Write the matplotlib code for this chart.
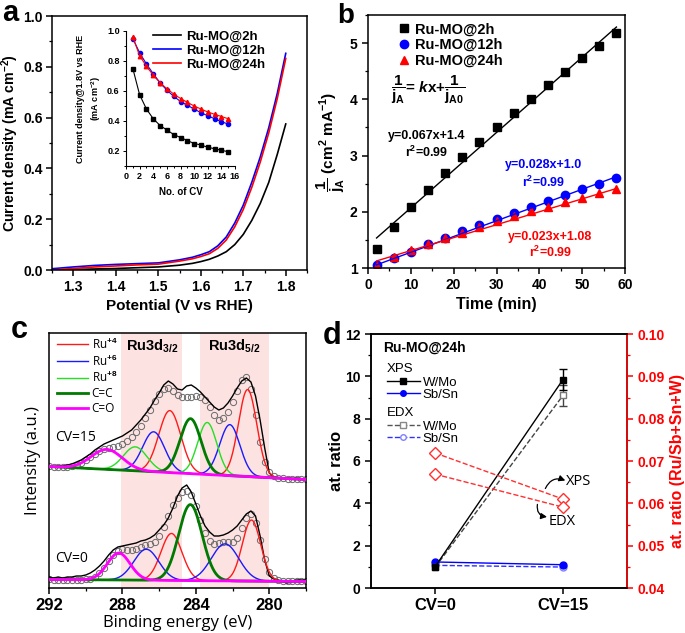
import numpy as np
import matplotlib
matplotlib.use('Agg')
import matplotlib.pyplot as plt
from matplotlib.lines import Line2D
from matplotlib.ticker import MultipleLocator, FormatStrFormatter

plt.rcParams['font.family'] = ['Liberation Sans', 'DejaVu Sans']
plt.rcParams['font.weight'] = 'bold'
plt.rcParams['axes.labelweight'] = 'bold'
plt.rcParams['mathtext.fontset'] = 'custom'
plt.rcParams['mathtext.rm'] = 'Liberation Sans'
plt.rcParams['mathtext.it'] = 'Liberation Sans:italic:bold'
plt.rcParams['mathtext.bf'] = 'Liberation Sans:bold'
plt.rcParams['mathtext.default'] = 'bf'
plt.rcParams['axes.linewidth'] = 1.1
for ax_ in ('xtick', 'ytick'):
    plt.rcParams[ax_ + '.major.width'] = 1.1
    plt.rcParams[ax_ + '.minor.width'] = 0.9
    plt.rcParams[ax_ + '.major.size'] = 4
    plt.rcParams[ax_ + '.minor.size'] = 2.5

# ---------------- panel a data ----------------
lsv_potential = [1.25, 1.30, 1.35, 1.40, 1.45, 1.50, 1.55, 1.58, 1.60, 1.62, 1.64, 1.66, 1.68,
                 1.70, 1.72, 1.74, 1.76, 1.78, 1.80]
lsv_2h = [0.000, 0.002, 0.004, 0.006, 0.009, 0.012, 0.019, 0.026, 0.033, 0.042, 0.055, 0.072, 0.100,
          0.140, 0.195, 0.262, 0.345, 0.455, 0.575]
lsv_12h = [0.005, 0.012, 0.018, 0.022, 0.025, 0.028, 0.040, 0.050, 0.060, 0.072, 0.095, 0.130, 0.185,
           0.255, 0.345, 0.445, 0.560, 0.695, 0.853]
lsv_24h = [0.000, 0.006, 0.012, 0.016, 0.020, 0.023, 0.035, 0.044, 0.053, 0.064, 0.085, 0.118, 0.170,
           0.238, 0.325, 0.425, 0.540, 0.675, 0.833]
sample_labels = ['Ru-MO@2h', 'Ru-MO@12h', 'Ru-MO@24h']

cv_number = list(range(1, 16))
inset_2h = [0.75, 0.575, 0.48, 0.415, 0.37, 0.34, 0.31, 0.29, 0.27, 0.25, 0.24, 0.225, 0.215, 0.205, 0.195]
inset_12h = [0.95, 0.855, 0.78, 0.715, 0.655, 0.605, 0.565, 0.53, 0.505, 0.48, 0.455, 0.435, 0.415, 0.395, 0.38]
inset_24h = [0.96, 0.835, 0.765, 0.705, 0.655, 0.615, 0.58, 0.55, 0.525, 0.50, 0.48, 0.46, 0.445, 0.43, 0.415]

# ---------------- panel b data ----------------
time_min = [2, 6, 10, 14, 18, 22, 26, 30, 34, 38, 42, 46, 50, 54, 58]
inv_j_2h = [1.33, 1.73, 2.08, 2.38, 2.69, 2.97, 3.24, 3.50, 3.75, 4.00, 4.25, 4.49, 4.73, 4.95, 5.18]
inv_j_12h = [1.05, 1.18, 1.285, 1.42, 1.535, 1.65, 1.76, 1.87, 1.98, 2.09, 2.19, 2.30, 2.40, 2.50, 2.60]
inv_j_24h = [1.04, 1.20, 1.32, 1.43, 1.53, 1.63, 1.73, 1.84, 1.92, 2.01, 2.09, 2.18, 2.25, 2.34, 2.40]
fit_slope = [0.067, 0.028, 0.023]
fit_intercept = [1.4, 1.0, 1.08]
fit_text = ['y=0.067x+1.4', 'y=0.028x+1.0', 'y=0.023x+1.08']
fit_r2 = ['r$^{2}$=0.99', 'r$^{2}$=0.99', 'r$^{2}$=0.99']

# ---------------- panel c data ----------------
raw_energy = [292.0, 291.75, 291.5, 291.25, 291.0, 290.75, 290.5, 290.25, 290.0, 289.75, 289.5, 289.25,
              289.0, 288.75, 288.5, 288.25, 288.0, 287.75, 287.5, 287.25, 287.0, 286.75, 286.5, 286.25,
              286.0, 285.75, 285.5, 285.25, 285.0, 284.75, 284.5, 284.25, 284.0, 283.75, 283.5, 283.25,
              283.0, 282.75, 282.5, 282.25, 282.0, 281.75, 281.5, 281.25, 281.0, 280.75, 280.5, 280.25,
              280.0, 279.75, 279.5, 279.25, 279.0, 278.75, 278.5, 278.25, 278.0]
raw_cv15 = [121, 121, 122, 122, 123, 124, 126, 128, 131, 134, 138, 141,
            144, 146, 148, 150, 152, 155, 158, 163, 168, 174, 180, 188,
            195, 203, 207, 204, 199, 198, 202, 203, 200, 196, 191, 186,
            181, 178, 180, 185, 192, 200, 207, 210, 206, 192, 168, 140,
            115, 111, 110, 110, 110, 109, 110, 109, 109]
raw_cv0 = [11, 10, 11, 10, 11, 11, 12, 12, 13, 15, 18, 22,
           27, 33, 38, 41, 42, 43, 44, 45, 47, 48, 50, 53,
           58, 63, 70, 80, 92, 100, 103, 96, 84, 72, 62, 56,
           52, 52, 53, 55, 58, 62, 68, 74, 77, 72, 52, 28,
           12, 9, 8, 6, 5, 7, 8, 8, 8]
# background (value at 292 eV, value at 278 eV)
bg_cv15 = [121.5, 108.5]
bg_cv0 = [8.5, 6.5]
# fitted components: species, centre (eV), height, sigma (eV)
comp_cv15_species = ['C=O', 'Ru+8', 'Ru+6', 'Ru+4', 'C=C', 'Ru+8', 'Ru+6', 'Ru+4']
comp_cv15_center = [288.85, 287.3, 286.3, 285.42, 284.29, 283.38, 282.15, 281.18]
comp_cv15_height = [20, 24, 40, 62, 55, 52, 51, 87]
comp_cv15_sigma = [0.85, 0.65, 0.6, 0.6, 0.57, 0.52, 0.55, 0.5]
comp_cv0_species = ['C=O', 'Ru+6', 'Ru+4', 'C=C', 'Ru+6', 'Ru+4']
comp_cv0_center = [288.2, 286.7, 285.33, 284.3, 282.41, 280.97]
comp_cv0_height = [27, 31, 47, 76, 37, 61]
comp_cv0_sigma = [0.62, 0.68, 0.57, 0.64, 0.75, 0.5]
species_order = ['Ru+4', 'Ru+6', 'Ru+8', 'C=C', 'C=O']
species_label = ['Ru$^{\\mathrm{+4}}$', 'Ru$^{\\mathrm{+6}}$', 'Ru$^{\\mathrm{+8}}$', 'C=C', 'C=O']
species_color = ['#ff1a1a', '#1a1aff', '#22e022', '#007a00', '#ff00ff']
species_lw = [1.0, 1.0, 1.0, 2.0, 2.0]
band_3_2 = [288.1, 284.75]
band_5_2 = [283.8, 280.0]

# ---------------- panel d data ----------------
cv_labels = ['CV=0', 'CV=15']
xps_w_mo = [1.0, 9.85]
xps_w_mo_err = [0.0, 0.5]
xps_sb_sn = [1.23, 1.10]
edx_w_mo = [0.97, 9.1]
edx_w_mo_err = [0.0, 0.5]
edx_sb_sn = [1.07, 0.99]
ru_ratio_xps = [0.0719, 0.0610]
ru_ratio_edx = [0.0669, 0.0591]

# ---------------- figure ----------------
W, H = 685, 633
fig = plt.figure(figsize=(W / 100, H / 100), dpi=100)


def rect(l, t, r, b):
    return [l / W, 1 - b / H, (r - l) / W, (b - t) / H]


TL = 10      # tick label size
AL = 10.5    # axis label size

# ===== panel a =====
axA = fig.add_axes(rect(52, 16, 307, 270))
colors3 = ['black', '#0000ff', '#ff0000']
for yv, c, lab in zip([lsv_2h, lsv_12h, lsv_24h], colors3, sample_labels):
    axA.plot(lsv_potential, yv, color=c, lw=1.2, label=lab)
axA.set_xlim(1.25, 1.85)
axA.set_ylim(0, 1.0)
axA.xaxis.set_major_locator(MultipleLocator(0.1))
axA.xaxis.set_minor_locator(MultipleLocator(0.05))
axA.yaxis.set_major_locator(MultipleLocator(0.2))
axA.yaxis.set_minor_locator(MultipleLocator(0.1))
axA.yaxis.set_major_formatter(FormatStrFormatter('%.1f'))
axA.tick_params(which='both', direction='out', labelsize=TL)
axA.tick_params(axis='y', pad=2.5)
axA.set_xlabel('Potential (V vs RHE)', fontsize=AL + 0.5, labelpad=3)
axA.set_ylabel('Current density (mA cm$^{-2}$)', fontsize=10.2, labelpad=1.5)

axI = fig.add_axes(rect(126, 31, 235, 166))
axI.set_facecolor('none')
axI.plot(cv_number, inset_2h, '-s', color='black', ms=3, lw=0.8)
axI.plot(cv_number, inset_12h, '-o', color='#0000ff', ms=3, lw=0.8)
axI.plot(cv_number, inset_24h, '-^', color='#ff0000', ms=3.2, lw=0.8)
axI.set_xlim(0, 16)
axI.set_ylim(0.1, 1.0)
axI.spines['top'].set_visible(False)
axI.spines['right'].set_visible(False)
axI.spines['left'].set_linewidth(0.8)
axI.spines['bottom'].set_linewidth(0.8)
axI.xaxis.set_major_locator(MultipleLocator(2))
axI.xaxis.set_minor_locator(MultipleLocator(1))
axI.yaxis.set_major_locator(MultipleLocator(0.2))
axI.yaxis.set_minor_locator(MultipleLocator(0.1))
axI.tick_params(which='both', direction='out', labelsize=6.5, width=0.7, pad=2)
axI.tick_params(which='major', length=2.5)
axI.tick_params(which='minor', length=1.5)
axI.set_xlabel('No. of CV', fontsize=7, labelpad=4)
axI.set_ylabel('Current density@1.8V vs RHE\n(mA cm$^{-2}$)', fontsize=6.5, labelpad=3, linespacing=1.4)
legA = axI.legend(*axA.get_legend_handles_labels(), loc='upper left', bbox_to_anchor=(0.19, 1.05),
                  frameon=False, fontsize=9.5, handlelength=2.1, handletextpad=0.35,
                  labelspacing=0.12, borderpad=0)

# ===== panel b =====
axB = fig.add_axes(rect(368, 15, 625, 268))
markers3 = ['s', 'o', '^']
for yv, c, m, lab in zip([inv_j_2h, inv_j_12h, inv_j_24h], colors3, markers3, sample_labels):
    axB.plot(time_min, yv, m, color=c, ms=6, ls='none', label=lab)
for k, c in enumerate(colors3):
    xs = np.array([time_min[0], time_min[-1]])
    axB.plot(xs, fit_slope[k] * xs + fit_intercept[k], color=c, lw=1.0)
axB.set_xlim(0, 60)
axB.set_ylim(1, 5.5)
axB.xaxis.set_major_locator(MultipleLocator(10))
axB.xaxis.set_minor_locator(MultipleLocator(5))
axB.yaxis.set_major_locator(MultipleLocator(1))
axB.yaxis.set_minor_locator(MultipleLocator(0.5))
axB.tick_params(which='both', direction='out', labelsize=TL)
axB.set_xlabel('Time (min)', fontsize=AL + 1, labelpad=3)
axB.set_ylabel(r'$\dfrac{1}{j_A}$ (cm$^{2}$ mA$^{-1}$)', fontsize=AL + 0.5, labelpad=2)
axB.legend(loc='upper left', bbox_to_anchor=(0.084, 1.0), frameon=False, fontsize=10.5,
           handlelength=1.0, handletextpad=0.25, labelspacing=0.12, borderpad=0, numpoints=1)
axB.text(5.3, 4.17, r'$\dfrac{1}{j_A}$= $\mathit{k}$x+$\dfrac{1}{j_{A0}}$', fontsize=11, va='center', ha='left')
axB.text(13.6, 3.35, fit_text[0], color='black', fontsize=9, ha='center', va='center')
axB.text(13.6, 3.05, fit_r2[0], color='black', fontsize=9, ha='center', va='center')
axB.text(41.1, 2.83, fit_text[1], color='#0000ff', fontsize=9, ha='center', va='center')
axB.text(41.1, 2.53, fit_r2[1], color='#0000ff', fontsize=9, ha='center', va='center')
axB.text(42.6, 1.55, fit_text[2], color='#ff0000', fontsize=9, ha='center', va='center')
axB.text(42.6, 1.28, fit_r2[2], color='#ff0000', fontsize=9, ha='center', va='center')

# ===== panel c =====
axC = fig.add_axes(rect(49, 333, 306, 588))
axC.axvspan(band_3_2[0], band_3_2[1], color='#fde2e2', lw=0, zorder=0)
axC.axvspan(band_5_2[0], band_5_2[1], color='#fde2e2', lw=0, zorder=0)
E_fine = np.linspace(292, 278, 500)
E_circ = np.arange(292.0, 277.99, -0.25)


def draw_spectrum(raw, bg, species, centers, heights, sigmas):
    base_f = np.interp(E_fine, [278, 292], [bg[1], bg[0]])
    base_c = np.interp(E_circ, [278, 292], [bg[1], bg[0]])
    env_c = base_c.copy()
    curves = []
    for sp, c0, h, s in zip(species, centers, heights, sigmas):
        g_f = h * np.exp(-(E_fine - c0) ** 2 / (2 * s ** 2))
        g_c = h * np.exp(-(E_circ - c0) ** 2 / (2 * s ** 2))
        env_c += g_c
        curves.append((sp, base_f + g_f))
    axC.plot(E_circ, env_c, 'o', mfc='none', mec='#6a6a6a', ms=4.5, mew=0.7, zorder=2)
    axC.plot(raw_energy, raw, color='black', lw=1.0, zorder=3)
    for i, sp_name in enumerate(species_order):
        for sp, yv in curves:
            if sp == sp_name:
                axC.plot(E_fine, yv, color=species_color[i], lw=species_lw[i], zorder=4)


draw_spectrum(raw_cv15, bg_cv15, comp_cv15_species, comp_cv15_center, comp_cv15_height, comp_cv15_sigma)
draw_spectrum(raw_cv0, bg_cv0, comp_cv0_species, comp_cv0_center, comp_cv0_height, comp_cv0_sigma)
axC.set_xlim(292, 278)
axC.set_ylim(0, 255)
axC.set_yticks([])
axC.xaxis.set_major_locator(MultipleLocator(4))
axC.xaxis.set_minor_locator(MultipleLocator(2))
axC.tick_params(which='both', direction='out', labelsize=12)
axC.set_xlabel('Binding energy (eV)', fontsize=12, fontweight='normal', family='Open Sans', labelpad=1)
axC.set_ylabel('Intensity (a.u.)', fontsize=12, fontweight='normal', family='Open Sans', labelpad=6)
handles_c = [Line2D([], [], color=c, lw=lw) for c, lw in zip(species_color, species_lw)]
axC.legend(handles_c, species_label, loc='upper left', bbox_to_anchor=(0.01, 1.01), frameon=False,
           prop={'family': 'Open Sans', 'size': 8.5, 'weight': 'normal'},
           handlelength=2.6, handletextpad=0.3, labelspacing=0.15, borderpad=0)
axC.text(286.4, 242, 'Ru3d$_{3/2}$', fontsize=10.5, ha='center', va='center')
axC.text(281.9, 242, 'Ru3d$_{5/2}$', fontsize=10.5, ha='center', va='center')
axC.text(291.65, 151, 'CV=15', fontsize=10, fontweight='normal', family='Open Sans', va='center')
axC.text(291.65, 30, 'CV=0', fontsize=10, fontweight='normal', family='Open Sans', va='center')

# ===== panel d =====
axD = fig.add_axes(rect(371, 334, 627, 588))
xpos = np.arange(len(cv_labels))
axD.errorbar(xpos, edx_w_mo, yerr=edx_w_mo_err, errorevery=(1, 2), color='#444444', ls='--', lw=1.0,
             marker='s', mfc='white', mec='#777777', ms=5, capsize=3, elinewidth=1)
axD.plot(xpos, edx_sb_sn, color='#3030ff', ls='--', lw=1.0, marker='o', mfc='white', mec='#8080ff', ms=5)
axD.errorbar(xpos, xps_w_mo, yerr=xps_w_mo_err, errorevery=(1, 2), color='black', lw=1.0, marker='s', ms=5,
             capsize=3, elinewidth=1)
axD.plot(xpos, xps_sb_sn, color='#0000ff', lw=1.0, marker='o', ms=5)
axD.set_xlim(-0.5, 1.5)
axD.set_ylim(0, 12)
axD.set_xticks(xpos)
axD.set_xticklabels(cv_labels, fontsize=12)
axD.yaxis.set_major_locator(MultipleLocator(2))
axD.yaxis.set_minor_locator(MultipleLocator(1))
axD.tick_params(which='both', direction='out', labelsize=TL)
axD.tick_params(axis='x', labelsize=12)
axD.set_ylabel('at. ratio', fontsize=12, labelpad=1)

axD2 = axD.twinx()
axD2.plot(xpos, ru_ratio_xps, color='#ff3030', ls='--', lw=1.0, marker='D', mfc='white', mec='#ff3030', ms=6)
axD2.plot(xpos, ru_ratio_edx, color='#ff3030', ls='--', lw=1.0, marker='D', mfc='white', mec='#ff3030', ms=6)
axD2.set_ylim(0.04, 0.10)
axD2.yaxis.set_major_locator(MultipleLocator(0.01))
axD2.yaxis.set_minor_locator(MultipleLocator(0.005))
axD2.yaxis.set_major_formatter(FormatStrFormatter('%.2f'))
axD2.tick_params(which='both', direction='out', labelsize=TL, colors='#ff0000')
axD2.spines['right'].set_color('#ff0000')
axD2.set_ylabel('at. ratio (Ru/Sb+Sn+W)', fontsize=11.5, color='#ff0000', labelpad=4)

axD.text(0.047, 0.946, 'Ru-MO@24h', transform=axD.transAxes, fontsize=10, va='center')
lp = {'family': 'Liberation Sans', 'size': 9.5, 'weight': 'normal'}
h_xps = [Line2D([], [], color='black', lw=1.0, marker='s', ms=4),
         Line2D([], [], color='#0000ff', lw=1.0, marker='o', ms=4)]
h_edx = [Line2D([], [], color='#555555', lw=1.0, ls='--', marker='s', mfc='white', mec='#888888', ms=4),
         Line2D([], [], color='#3030ff', lw=1.0, ls='--', marker='o', mfc='white', mec='#8080ff', ms=4)]
leg1 = axD.legend(h_xps, ['W/Mo', 'Sb/Sn'], title='XPS', alignment='left', loc='upper left',
                  bbox_to_anchor=(0.035, 0.912), frameon=False, prop=lp, title_fontproperties=lp,
                  handlelength=2.5, handletextpad=0.25, labelspacing=0.0, borderpad=0)
leg1._legend_box.sep = 1
axD.add_artist(leg1)
leg2 = axD.legend(h_edx, ['W/Mo', 'Sb/Sn'], title='EDX', alignment='left', loc='upper left',
                  bbox_to_anchor=(0.035, 0.738), frameon=False, prop=lp, title_fontproperties=lp,
                  handlelength=2.5, handletextpad=0.25, labelspacing=0.0, borderpad=0)
leg2._legend_box.sep = 1
axD.annotate('', xy=(1.018, 5.08), xytext=(0.862, 4.70),
             arrowprops=dict(arrowstyle='-|>', color='black', lw=0.9, connectionstyle='arc3,rad=-0.45',
                             mutation_scale=9, shrinkA=0, shrinkB=0))
axD.text(1.026, 5.03, 'XPS', fontsize=10.5, fontweight='normal', family='Open Sans', va='center', ha='left')
axD.annotate('', xy=(0.875, 3.36), xytext=(0.80, 3.95),
             arrowprops=dict(arrowstyle='-|>', color='black', lw=0.9, connectionstyle='arc3,rad=0.5',
                             mutation_scale=9, shrinkA=0, shrinkB=0))
axD.text(0.885, 3.14, 'EDX', fontsize=10.5, fontweight='normal', family='Open Sans', va='center', ha='left')

# panel letters
fig.text(2 / W, 1 - 21 / H, 'a', fontsize=21, fontweight='bold', va='baseline')
fig.text(337 / W, 1 - 23 / H, 'b', fontsize=20, fontweight='bold', va='baseline')
fig.text(11 / W, 1 - 338 / H, 'c', fontsize=22, fontweight='bold', va='baseline')
fig.text(323 / W, 1 - 344 / H, 'd', fontsize=22, fontweight='bold', va='baseline')

fig.savefig('out.png', dpi=100)
